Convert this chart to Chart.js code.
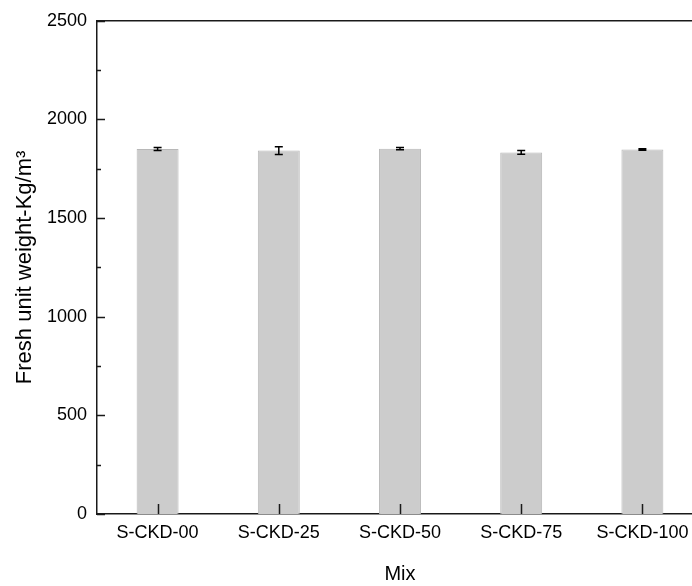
<!DOCTYPE html>
<html>
<head>
<meta charset="utf-8">
<script src="https://cdn.jsdelivr.net/npm/chart.js@4.4.1/dist/chart.umd.min.js"></script>
<style>
  html, body { margin: 0; padding: 0; overflow: hidden; background: #fff; }
</style>
</head>
<body>
<canvas id="chart" width="704" height="586"></canvas>
<script>
const mixes = ['S-CKD-00', 'S-CKD-25', 'S-CKD-50', 'S-CKD-75', 'S-CKD-100'];
const unitWeight = [1850, 1842, 1852, 1833, 1848];
const unitWeightErr = [8, 20, 6, 10, 4];
const yMax = 2500;
const yStep = 500;
const yMinorStep = 250;

const FONT = 'Arial, "Liberation Sans", sans-serif';
const AXIS_COLOR = '#1a1a1a';

// frame, inward tick marks and error bars
const extras = {
  id: 'extras',
  afterDatasetsDraw(chart) {
    const ctx = chart.ctx;
    const meta = chart.getDatasetMeta(0);
    const y = chart.scales.y;
    ctx.save();
    ctx.strokeStyle = '#000';
    ctx.lineWidth = 1.5;
    meta.data.forEach((bar, i) => {
      const top = y.getPixelForValue(unitWeight[i] + unitWeightErr[i]);
      const bot = y.getPixelForValue(unitWeight[i] - unitWeightErr[i]);
      const cx = bar.x;
      ctx.beginPath();
      ctx.moveTo(cx, top); ctx.lineTo(cx, bot);
      ctx.moveTo(cx - 4, top); ctx.lineTo(cx + 4, top);
      ctx.moveTo(cx - 4, bot); ctx.lineTo(cx + 4, bot);
      ctx.stroke();
    });
    ctx.restore();
  },
  afterDraw(chart) {
    const ctx = chart.ctx;
    const area = chart.chartArea;
    const x = chart.scales.x;
    const y = chart.scales.y;
    ctx.save();
    ctx.strokeStyle = AXIS_COLOR;
    ctx.lineWidth = 1.5;
    ctx.beginPath();
    ctx.moveTo(area.left, area.top);
    ctx.lineTo(area.right, area.top);
    ctx.lineTo(area.right, area.bottom);
    // y ticks, pointing into the plot
    for (let v = 0; v <= yMax; v += yMinorStep) {
      const py = Math.round(y.getPixelForValue(v)) + 0.5;
      const len = v % yStep === 0 ? 8 : 4;
      ctx.moveTo(area.left, py);
      ctx.lineTo(area.left + len, py);
    }
    // x ticks at each category
    mixes.forEach((_, i) => {
      const px = Math.round(x.getPixelForValue(i)) + 0.5;
      ctx.moveTo(px, area.bottom);
      ctx.lineTo(px, area.bottom - 10);
    });
    ctx.stroke();
    ctx.restore();
  }
};

new Chart(document.getElementById('chart'), {
  type: 'bar',
  data: {
    labels: mixes,
    datasets: [{
      label: 'Fresh unit weight',
      data: unitWeight,
      backgroundColor: '#cccccc',
      borderColor: '#b8b8b8',
      borderWidth: 1,
      borderSkipped: 'start',
      categoryPercentage: 1,
      barPercentage: 0.346
    }]
  },
  options: {
    responsive: false,
    animation: false,
    layout: { padding: { left: 0, top: 16, right: 1, bottom: 0 } },
    plugins: { legend: { display: false }, tooltip: { enabled: false } },
    scales: {
      x: {
        grid: { display: false, drawTicks: false },
        border: { display: true, color: AXIS_COLOR, width: 1.5 },
        ticks: { color: '#000', padding: 8, maxRotation: 0, font: { family: FONT, size: 18 } },
        title: {
          display: true, text: 'Mix', color: '#000',
          font: { family: FONT, size: 20 }, padding: { top: 0, bottom: 0 }
        },
        afterFit(scale) { scale.height = 72; }
      },
      y: {
        min: 0,
        max: yMax,
        grid: { display: false, drawTicks: false },
        border: { display: true, color: AXIS_COLOR, width: 1.5 },
        ticks: {
          stepSize: yStep, color: '#000', padding: 10,
          font: { family: FONT, size: 18 },
          callback: v => String(v)
        },
        title: {
          display: true, text: 'Fresh unit weight-Kg/m³', color: '#000',
          font: { family: FONT, size: 22 }, padding: { top: 12, bottom: 0 }
        },
        afterFit(scale) { scale.width = 97; }
      }
    }
  },
  plugins: [extras]
});
</script>
</body>
</html>
